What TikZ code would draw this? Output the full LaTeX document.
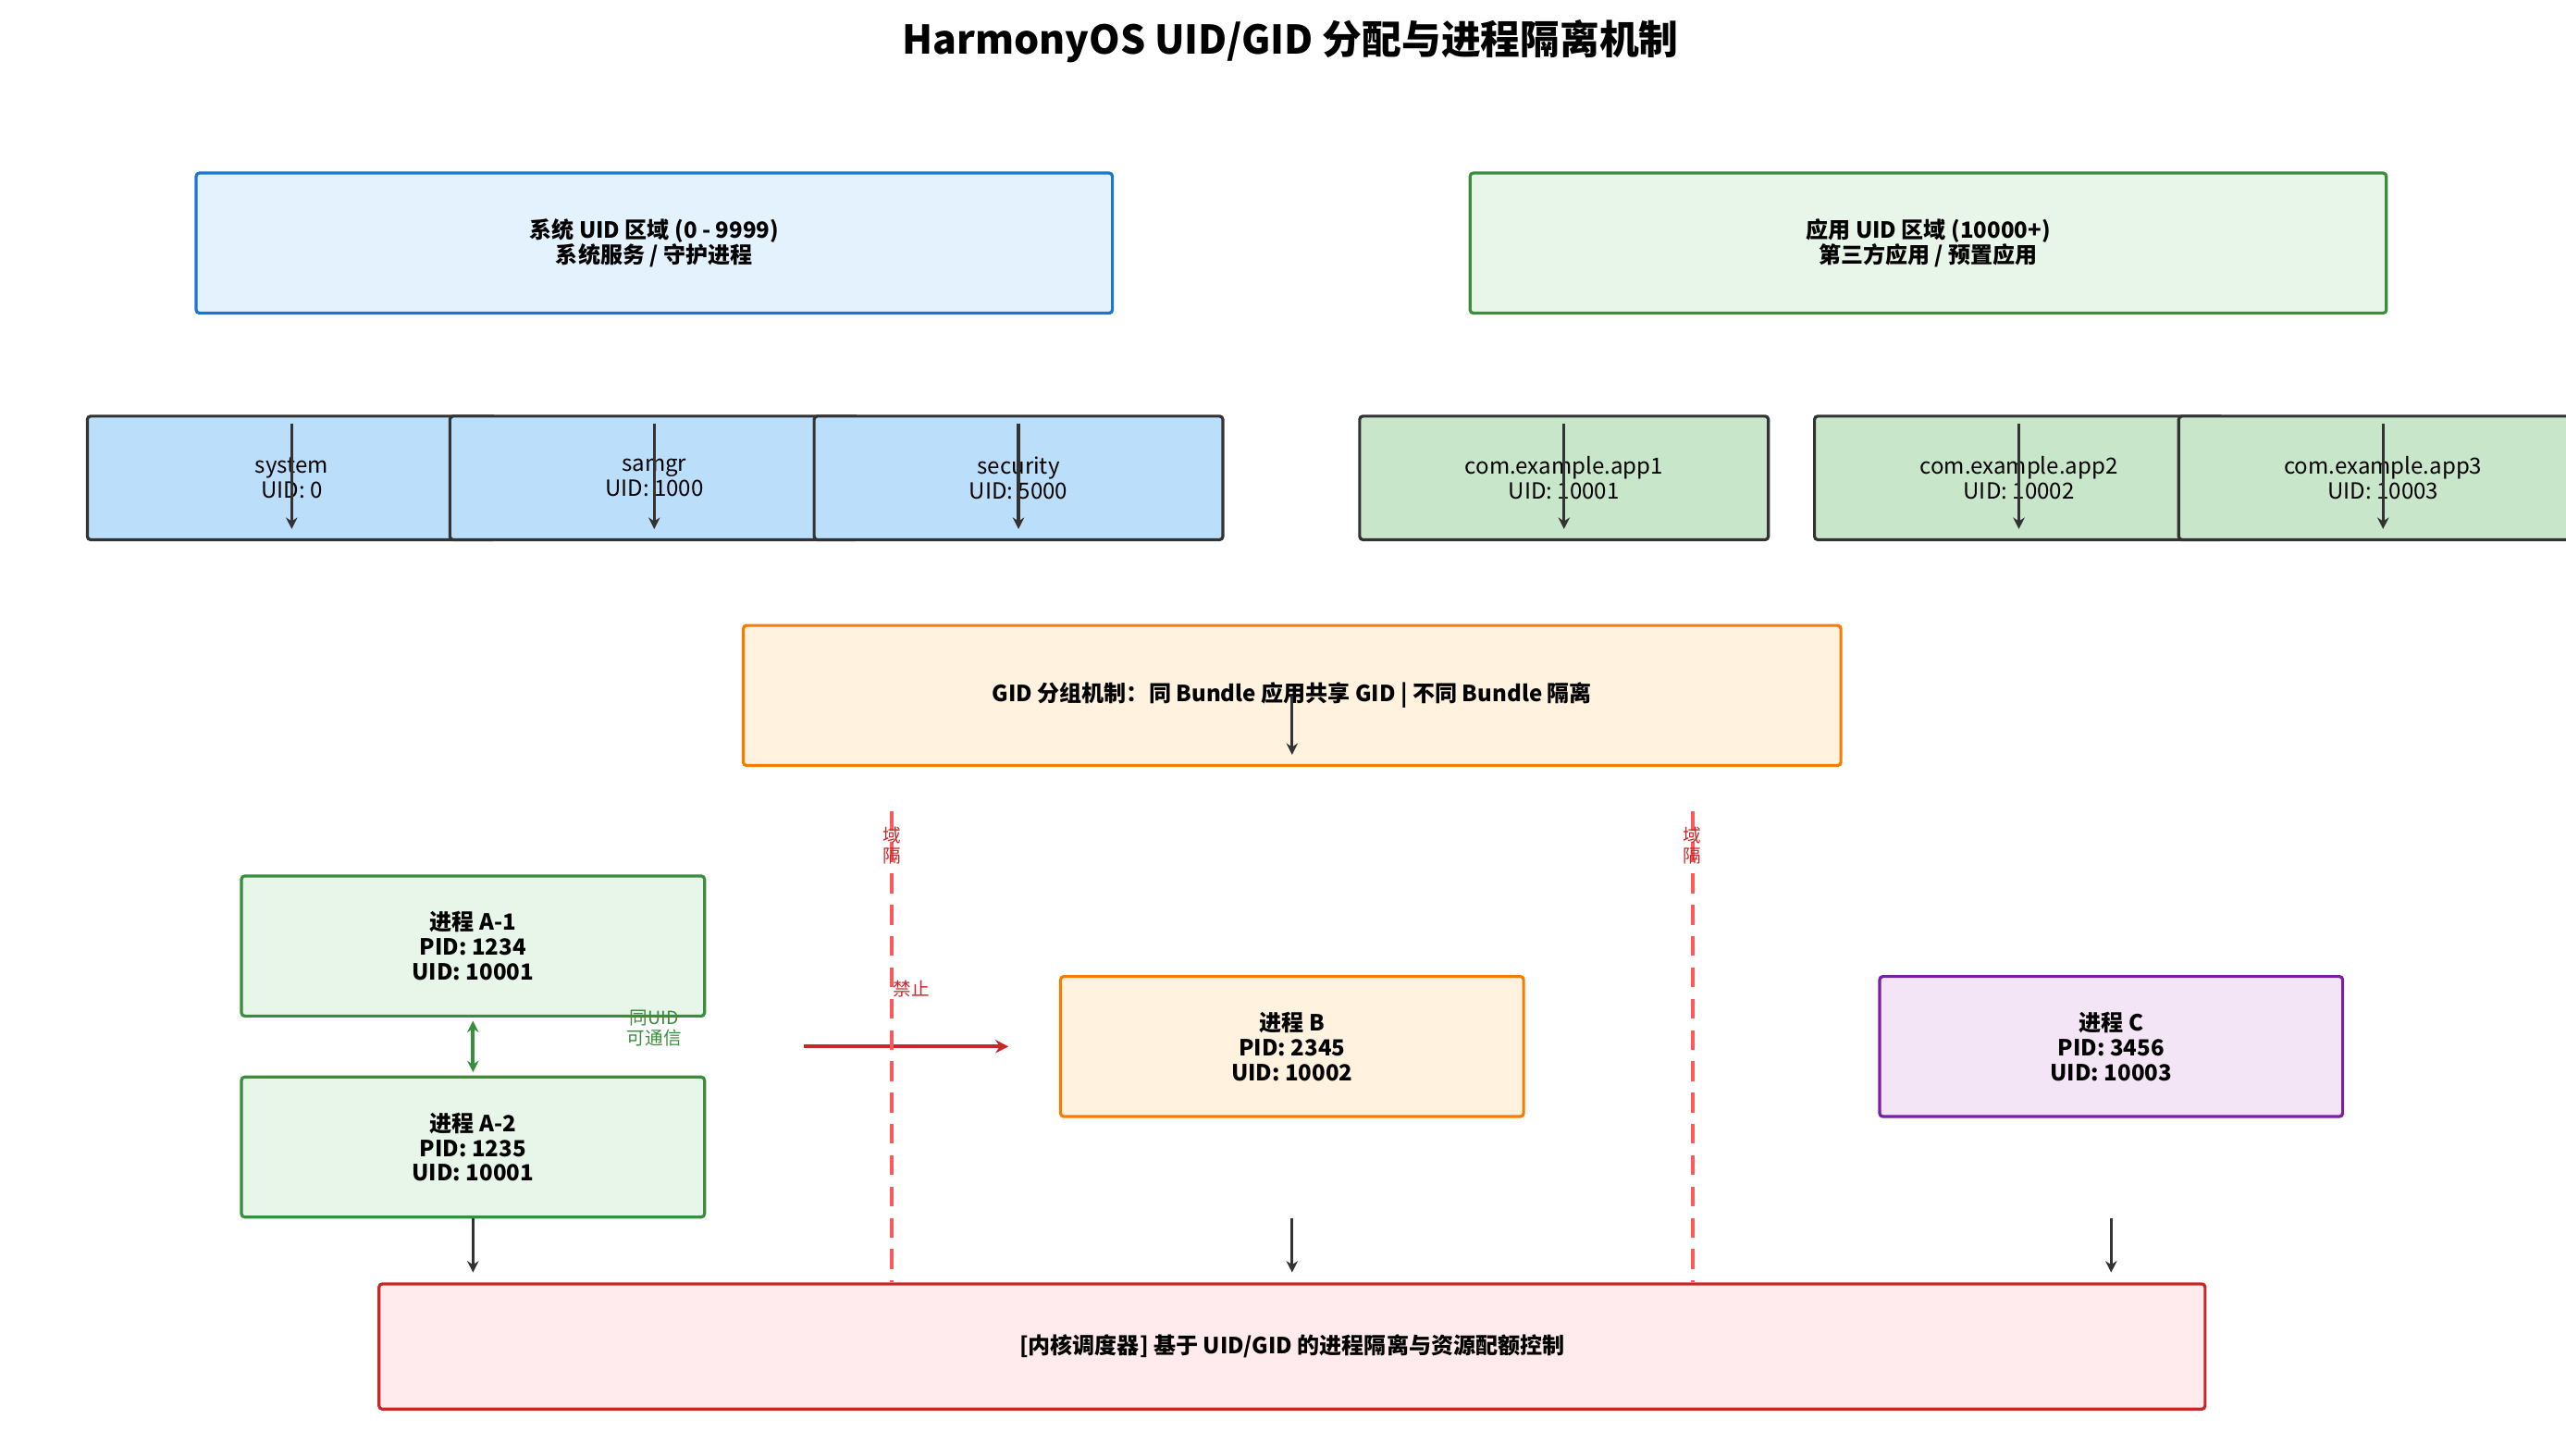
\documentclass[tikz,border=0pt]{standalone}
\usepackage{fontspec}
\setmainfont{Noto Sans CJK SC}
\usetikzlibrary{arrows.meta}
\begin{document}
\begin{tikzpicture}[x=1pt,y=-1pt,
 box/.style={draw,line width=1.8pt,rounded corners=2pt,align=center,inner sep=0pt},
 big/.style={box,font=\fontsize{13.5}{15}\selectfont\bfseries},
 sub/.style={box,draw=black!80,minimum width=248pt,minimum height=75pt,font=\fontsize{13.5}{15}\selectfont},
 proc/.style={box,minimum width=281pt,minimum height=85pt,font=\fontsize{13.5}{15}\selectfont\bfseries},
 arr/.style={-{Stealth[length=7pt,width=7pt]},line width=1.8pt,draw=black!80},
 sep/.style={line width=2.2pt,draw=red!65,dash pattern=on 12pt off 7pt}]
\useasboundingbox (0,0) rectangle (1557,883);
\definecolor{sb}{HTML}{BBDEFB}\definecolor{sg}{HTML}{C8E6C9}
\definecolor{gf}{HTML}{E8F5E9}\definecolor{gd}{HTML}{388E3C}
\definecolor{bf}{HTML}{E3F2FD}\definecolor{bd}{HTML}{1976D2}
\definecolor{of}{HTML}{FFF3E0}\definecolor{od}{HTML}{F57C00}
\definecolor{rd}{HTML}{C62828}
\node[font=\fontsize{24}{28}\selectfont\bfseries] (title) at (783,25) {HarmonyOS UID/GID 分配与进程隔离机制};
\node[big,fill=bf,draw=bd,minimum width=556pt,minimum height=85pt] (sys) at (397,147.5) {系统 UID 区域 (0 - 9999)\\系统服务 / 守护进程};
\node[big,fill=gf,draw=gd,minimum width=556pt,minimum height=85pt] (app) at (1170,147.5) {应用 UID 区域 (10000+)\\第三方应用 / 预置应用};
\node[sub,fill=sb] (s1) at (177,290) {system\\UID: 0};
\node[sub,fill=sb] (s2) at (397,290) {samgr\\UID: 1000};
\node[sub,fill=sb] (s3) at (618,290) {security\\UID: 5000};
\node[sub,fill=sg] (a1) at (949,290) {com.example.app1\\UID: 10001};
\node[sub,fill=sg] (a2) at (1225,290) {com.example.app2\\UID: 10002};
\node[sub,fill=sg] (a3) at (1446,290) {com.example.app3\\UID: 10003};
\foreach \n in {s1,s2,s3,a1,a2,a3}{\draw[arr] ([shift={(0,-33)}]\n.center) -- ([shift={(0,31)}]\n.center);}
\node[big,fill=of,draw=od,minimum width=666pt,minimum height=85pt] (gid) at (784,422) {GID 分组机制：同 Bundle 应用共享 GID | 不同 Bundle 隔离};
\draw[arr] (gid.center) -- ([shift={(0,36)}]gid.center);
\node[proc,fill=gf,draw=gd] (pa1) at (287,574) {进程 A-1\\PID: 1234\\UID: 10001};
\node[proc,fill=gf,draw=gd] (pa2) at (287,696) {进程 A-2\\PID: 1235\\UID: 10001};
\node[proc,fill=of,draw=od] (pb) at (784,635) {进程 B\\PID: 2345\\UID: 10002};
\node[proc,fill={rgb,255:red,243;green,229;blue,245},draw={rgb,255:red,123;green,31;blue,162}] (pc) at (1281,635) {进程 C\\PID: 3456\\UID: 10003};
\node[box,draw=rd,fill={rgb,255:red,255;green,235;blue,238},minimum width=1108pt,minimum height=76pt,font=\fontsize{13.5}{15}\selectfont\bfseries] (k) at (784,817) {[内核调度器] 基于 UID/GID 的进程隔离与资源配额控制};
\draw[{Stealth[length=7pt,width=7pt]}-{Stealth[length=7pt,width=7pt]},line width=2.4pt,draw=gd] ([shift={(0,2)}]pa1.south) -- ([shift={(0,-2)}]pa2.north);
\node[text=gd,font=\fontsize{11}{12}\selectfont,align=center] (same) at (397,624) {同UID\\可通信};
\coordinate (r1) at (488,635); \coordinate (r2) at (612,635);
\draw[-{Stealth[length=8pt,width=8pt]},line width=2.4pt,draw=rd] (r1) -- (r2);
\node[text=rd,font=\fontsize{11}{12}\selectfont] (forbid) at (553,600) {禁止};
\coordinate (d1t) at (541,492); \coordinate (d1b) at (541,778);
\coordinate (d2t) at (1027,492); \coordinate (d2b) at (1027,778);
\draw[sep] (d1t) -- (d1b); \draw[sep] (d2t) -- (d2b);
\node[text=rd,font=\fontsize{11}{12}\selectfont,align=center,inner sep=0pt] (iso1) at (541,513) {域\\隔};
\node[text=rd,font=\fontsize{11}{12}\selectfont,align=center,inner sep=0pt] (iso2) at (1027,513) {域\\隔};
\draw[arr] (pa2.south) -- ([shift={(0,-6)}]k.north -| pa2.south);
\draw[arr] ([shift={(0,61)}]pb.south) -- ([shift={(0,-6)}]k.north -| pb.south);
\draw[arr] ([shift={(0,61)}]pc.south) -- ([shift={(0,-6)}]k.north -| pc.south);
\end{tikzpicture}
\end{document}
